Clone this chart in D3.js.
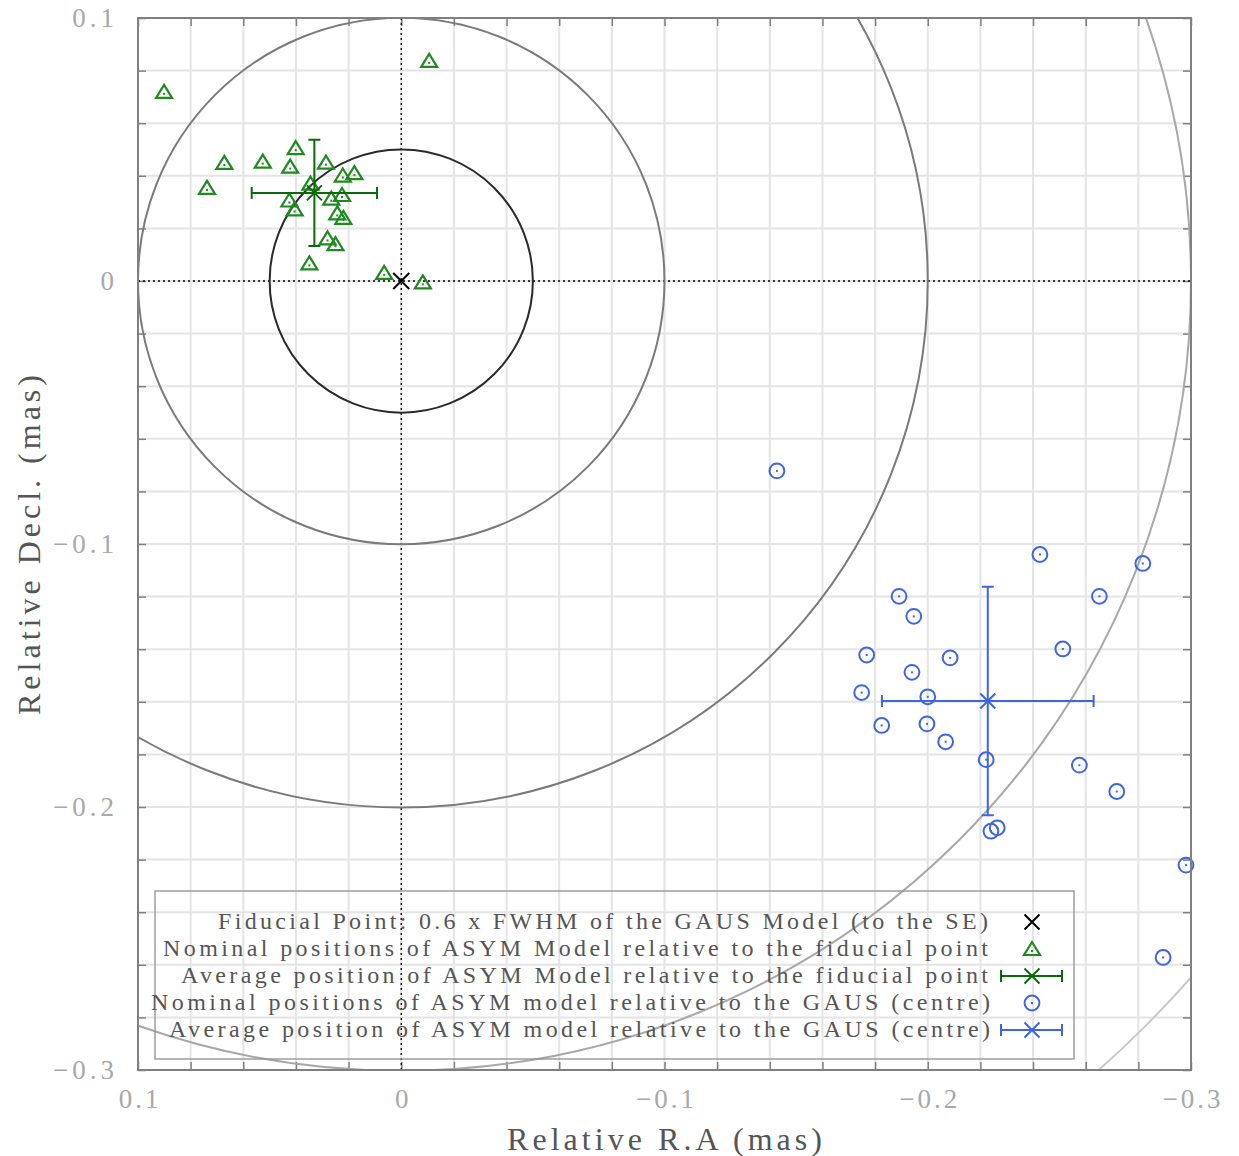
<!DOCTYPE html>
<html>
<head>
<meta charset="utf-8">
<script src="https://cdn.jsdelivr.net/npm/d3@7"></script>
<style>
  html, body { margin: 0; padding: 0; background: #fff; }
  svg { display: block; }
  text { font-family: "Liberation Serif", "DejaVu Serif", serif; }
</style>
</head>
<body>
<svg id="chart" width="1239" height="1156"></svg>
<script>
// Offsets (mas) of the ASYM model relative to the fiducial point
const asymFidRA  = [0.0901, -0.0106, 0.0672, 0.0738, 0.0526, 0.0401, 0.0422, 0.0286, 0.0345,
                    0.0425, 0.0405, 0.0222, 0.0178, 0.0225, 0.0266, 0.0243, 0.0220, 0.0280,
                    0.0250, 0.0349, 0.0065, -0.0082];
const asymFidDec = [0.0719, 0.0837, 0.0449, 0.0354, 0.0454, 0.0505, 0.0435, 0.0450, 0.0370,
                    0.0306, 0.0272, 0.0401, 0.0410, 0.0327, 0.0313, 0.0257, 0.0240, 0.0162,
                    0.0140, 0.0067, 0.0031, -0.0005];
const asymFidMean = [0.0330, 0.0335];   // RA, Decl.
const asymFidErr  = [0.0238, 0.0202];   // RA, Decl.

// Offsets (mas) of the ASYM model relative to the GAUS centre
const asymGausRA  = [-0.1427, -0.2426, -0.2817, -0.1891, -0.2652, -0.1947, -0.1768, -0.2085,
                     -0.2513, -0.1940, -0.1749, -0.2000, -0.1825, -0.1997, -0.2068, -0.2222,
                     -0.2576, -0.2718, -0.2240, -0.2264, -0.2981, -0.2894];
const asymGausDec = [-0.0722, -0.1040, -0.1074, -0.1199, -0.1199, -0.1275, -0.1422, -0.1433,
                     -0.1399, -0.1488, -0.1565, -0.1581, -0.1690, -0.1684, -0.1752, -0.1820,
                     -0.1841, -0.1941, -0.2092, -0.2079, -0.2221, -0.2572];
const asymGausMean = [-0.2228, -0.1597];
const asymGausErr  = [0.0402, 0.0434];

// Reference rings around the fiducial point (mas)
const ringRadii  = [0.05, 0.1, 0.2, 0.3, 0.4];
const ringColors = ["#2a2a2a", "#7a7a7a", "#7a7a7a", "#a8a8a8", "#c8c8c8"];

const tickValues = [0.1, 0, -0.1, -0.2, -0.3];
const tickLabels = ["0.1", "0", "\u22120.1", "\u22120.2", "\u22120.3"];

const legendLabels = [
  "Fiducial Point: 0.6 x FWHM of the GAUS Model (to the SE)",
  "Nominal positions of ASYM Model relative to the fiducial point",
  "Average position of ASYM Model relative to the fiducial point",
  "Nominal positions of ASYM model relative to the GAUS (centre)",
  "Average position of ASYM model relative to the GAUS (centre)"
];

const C_GREEN = "#1f8a1f", C_DKGREEN = "#0a6a0a", C_BLUE = "#3f66e0";

const svg = d3.select("#chart");
const L = 138, R = 1191, T = 18, B = 1070;

const x = d3.scaleLinear().domain([0.1, -0.3]).range([L, R]);
const y = d3.scaleLinear().domain([0.1, -0.3]).range([T, B]);

svg.append("defs").append("clipPath").attr("id", "plotclip")
  .append("rect").attr("x", L).attr("y", T).attr("width", R - L).attr("height", B - T);

// Grid every 0.02 mas
const gridVals = d3.range(0, 21).map(i => +(0.1 - i * 0.02).toFixed(3));
const grid = svg.append("g");
grid.selectAll("line.gx").data(gridVals).join("line")
  .attr("x1", d => x(d)).attr("x2", d => x(d)).attr("y1", T).attr("y2", B)
  .attr("stroke", "#e4e4e4").attr("stroke-width", 2);
grid.selectAll("line.gy").data(gridVals).join("line")
  .attr("y1", d => y(d)).attr("y2", d => y(d)).attr("x1", L).attr("x2", R)
  .attr("stroke", "#e4e4e4").attr("stroke-width", 2);

// Inward tick marks on all four sides
const tickLen = 8;
const axisStyle = g => {
  g.select(".domain").remove();
  g.selectAll(".tick line").attr("stroke", "#808080").attr("stroke-width", 1.5);
  g.selectAll(".tick text").remove();
};
svg.append("g").attr("transform", `translate(0,${B})`)
  .call(d3.axisTop(x).tickValues(gridVals).tickSize(tickLen)).call(axisStyle);
svg.append("g").attr("transform", `translate(0,${T})`)
  .call(d3.axisBottom(x).tickValues(gridVals).tickSize(tickLen)).call(axisStyle);
svg.append("g").attr("transform", `translate(${L},0)`)
  .call(d3.axisRight(y).tickValues(gridVals).tickSize(tickLen)).call(axisStyle);
svg.append("g").attr("transform", `translate(${R},0)`)
  .call(d3.axisLeft(y).tickValues(gridVals).tickSize(tickLen)).call(axisStyle);

// Dotted cross-hair through the fiducial point
const plot = svg.append("g").attr("clip-path", "url(#plotclip)");
plot.append("line").attr("x1", x(0)).attr("x2", x(0)).attr("y1", T).attr("y2", B)
  .attr("stroke", "#000").attr("stroke-width", 1.3).attr("stroke-dasharray", "2,3");
plot.append("line").attr("y1", y(0)).attr("y2", y(0)).attr("x1", L).attr("x2", R)
  .attr("stroke", "#000").attr("stroke-width", 1.3).attr("stroke-dasharray", "2,3");

// Rings
plot.selectAll("circle.ring").data(ringRadii).join("circle")
  .attr("cx", x(0)).attr("cy", y(0))
  .attr("r", d => Math.abs(x(d) - x(0)))
  .attr("fill", "none")
  .attr("stroke", (d, i) => ringColors[i]).attr("stroke-width", 2);

// Marker helpers
function cross(g, cx, cy, h, color, w) {
  g.append("path")
    .attr("d", `M${cx - h},${cy - h}L${cx + h},${cy + h}M${cx - h},${cy + h}L${cx + h},${cy - h}`)
    .attr("stroke", color).attr("stroke-width", w).attr("fill", "none");
}
function triangle(g, cx, cy) {
  g.append("path")
    .attr("d", `M${cx - 8},${cy + 6}L${cx + 8},${cy + 6}L${cx},${cy - 7}Z`)
    .attr("fill", "none").attr("stroke", C_GREEN).attr("stroke-width", 2.2)
    .attr("stroke-linejoin", "miter");
  g.append("rect").attr("x", cx - 1).attr("y", cy + 1).attr("width", 2).attr("height", 2)
    .attr("fill", C_GREEN);
}
function ring(g, cx, cy, color) {
  g.append("circle").attr("cx", cx).attr("cy", cy).attr("r", 7.4)
    .attr("fill", "none").attr("stroke", color).attr("stroke-width", 2);
  g.append("rect").attr("x", cx - 1).attr("y", cy - 1).attr("width", 2).attr("height", 2)
    .attr("fill", color);
}
function errCross(g, cx, cy, x0, x1, y0, y1, color, w) {
  const cap = 6;
  let d = `M${x0},${cy}L${x1},${cy}M${x0},${cy - cap}L${x0},${cy + cap}M${x1},${cy - cap}L${x1},${cy + cap}`;
  if (y0 !== null) {
    d += `M${cx},${y0}L${cx},${y1}M${cx - cap},${y0}L${cx + cap},${y0}M${cx - cap},${y1}L${cx + cap},${y1}`;
  }
  g.append("path").attr("d", d).attr("stroke", color).attr("stroke-width", w).attr("fill", "none");
  cross(g, cx, cy, 7.5, color, w);
}

const marks = svg.append("g");

// Fiducial point
cross(marks, x(0), y(0), 8, "#000", 2);

// ASYM relative to fiducial point
asymFidRA.forEach((ra, i) => triangle(marks, x(ra), y(asymFidDec[i])));
errCross(marks, x(asymFidMean[0]), y(asymFidMean[1]),
  x(asymFidMean[0] + asymFidErr[0]), x(asymFidMean[0] - asymFidErr[0]),
  y(asymFidMean[1] + asymFidErr[1]), y(asymFidMean[1] - asymFidErr[1]), C_DKGREEN, 2);

// ASYM relative to GAUS centre
asymGausRA.forEach((ra, i) => ring(marks, x(ra), y(asymGausDec[i]), C_BLUE));
errCross(marks, x(asymGausMean[0]), y(asymGausMean[1]),
  x(asymGausMean[0] + asymGausErr[0]), x(asymGausMean[0] - asymGausErr[0]),
  y(asymGausMean[1] + asymGausErr[1]), y(asymGausMean[1] - asymGausErr[1]), C_BLUE, 2);

// Frame
svg.append("rect").attr("x", L).attr("y", T).attr("width", R - L).attr("height", B - T)
  .attr("fill", "none").attr("stroke", "#808080").attr("stroke-width", 2);

// Tick labels
svg.append("g").selectAll("text").data(tickValues).join("text")
  .attr("x", 118).attr("y", d => y(d) + 9)
  .attr("text-anchor", "end")
  .attr("font-size", 27).attr("letter-spacing", 4).attr("fill", "#a8a8a8")
  .text((d, i) => tickLabels[i]);
svg.append("g").selectAll("text").data(tickValues).join("text")
  .attr("x", d => x(d) + 2).attr("y", 1108)
  .attr("text-anchor", "middle")
  .attr("font-size", 27).attr("letter-spacing", 3).attr("fill", "#a8a8a8")
  .text((d, i) => tickLabels[i]);

// Axis titles
svg.append("text").attr("x", 507).attr("y", 1150)
  .attr("font-size", 32).attr("fill", "#555")
  .attr("textLength", 315).attr("lengthAdjust", "spacing")
  .text("Relative R.A (mas)");
svg.append("text").attr("transform", "translate(40,715) rotate(-90)")
  .attr("font-size", 32).attr("fill", "#555")
  .attr("textLength", 340).attr("lengthAdjust", "spacing")
  .text("Relative Decl. (mas)");

// Legend
const leg = svg.append("g");
leg.append("rect").attr("x", 155).attr("y", 891).attr("width", 919).attr("height", 168)
  .attr("fill", "none").attr("stroke", "#909090").attr("stroke-width", 1.3);
const legStart = [218, 163, 181, 151, 169];
const legEnd   = [988, 988, 988, 990, 990];
const legBase = 929, legStep = 27;
leg.selectAll("text").data(legendLabels).join("text")
  .attr("x", (d, i) => legStart[i]).attr("y", (d, i) => legBase + i * legStep)
  .attr("font-size", 24).attr("fill", "#555")
  .attr("textLength", (d, i) => legEnd[i] - legStart[i]).attr("lengthAdjust", "spacing")
  .text(d => d);
const sx = 1032, sy = i => legBase - 7 + i * legStep;
cross(leg, sx, sy(0), 7.5, "#000", 2);
triangle(leg, sx, sy(1));
errCross(leg, sx, sy(2), 1001, 1062, null, null, C_DKGREEN, 2);
ring(leg, sx, sy(3), C_BLUE);
errCross(leg, sx, sy(4), 1001, 1062, null, null, C_BLUE, 2);
</script>
</body>
</html>
